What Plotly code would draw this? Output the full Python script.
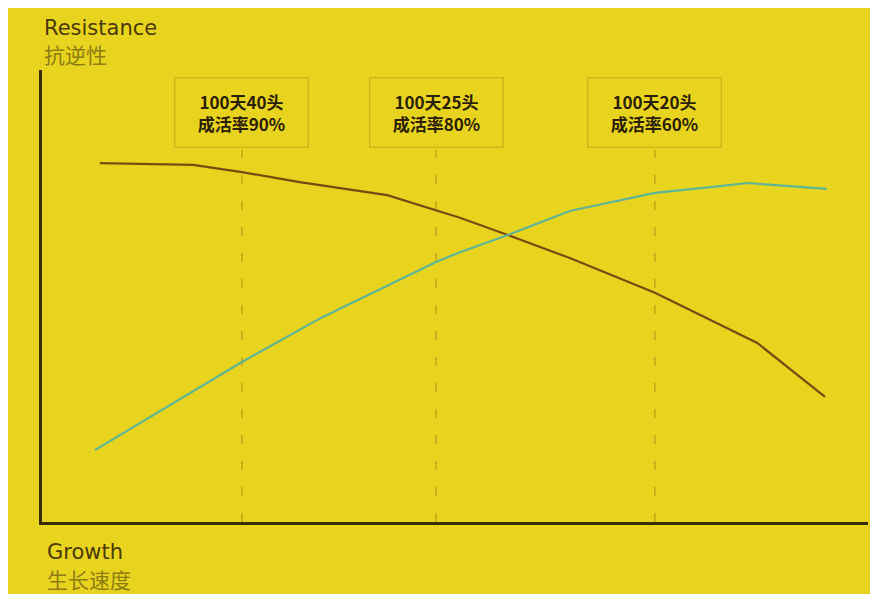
import plotly.graph_objects as go

# ---- data (x: growth index 0-100, y: resistance index 0-100) ----
resistance_x = [7.0, 18.3, 24.2, 31.2, 41.8, 47.7, 50.6, 56.4, 63.9, 74.2, 86.6, 94.8]
resistance_y = [79.4, 79.0, 77.4, 75.2, 72.3, 69.0, 67.3, 63.5, 58.4, 50.7, 39.6, 27.7]

growth_x = [6.4, 15.5, 24.2, 33.7, 43.3, 47.7, 50.6, 56.4, 63.9, 74.2, 82.1, 85.4, 95.0]
growth_y = [15.9, 25.9, 35.4, 45.1, 53.5, 57.5, 59.7, 63.5, 68.8, 72.8, 74.3, 75.0, 73.7]

marker_x = [24.2, 47.7, 74.2]
marker_top = 82.3
marker_labels = ["100天40头<br>成活率90%", "100天25头<br>成活率80%", "100天20头<br>成活率60%"]

y_title = ["Resistance", "抗逆性"]
x_title = ["Growth", "生长速度"]

# ---- style ----
YELLOW = "#E8D41E"
AXIS = "#3A2C05"
BROWN = "#7A4A12"
TEAL = "#5DB596"
DASH = "rgba(140,110,20,0.5)"
BOXLINE = "#CDB71A"

W, H = 870, 586
OFF = 8  # page body margin
L, R, T, B = 34, 10, 62, 72
pw, ph = W - L - R, H - T - B

def px_x(p):
    return (p - OFF - L) / pw

def px_y(p):
    return (H - B - (p - OFF)) / ph

fig = go.Figure()

for xv in marker_x:
    fig.add_trace(go.Scatter(x=[xv, xv], y=[0, marker_top], mode="lines",
                             line=dict(color=DASH, width=1.3, dash="9px,17px"),
                             hoverinfo="skip", showlegend=False))

fig.add_trace(go.Scatter(x=resistance_x, y=resistance_y, mode="lines",
                         line=dict(color=BROWN, width=2.2), showlegend=False))
fig.add_trace(go.Scatter(x=growth_x, y=growth_y, mode="lines",
                         line=dict(color=TEAL, width=2.2), showlegend=False))

annotations = []
for xv, lab in zip(marker_x, marker_labels):
    annotations.append(dict(x=xv, y=px_y(112), xref="x", yref="paper",
                            text="<b>" + lab + "</b>", showarrow=False,
                            font=dict(family="Noto Sans CJK SC", size=17, color="#2B2003"),
                            align="center", width=128, height=64, borderpad=2,
                            bordercolor=BOXLINE, borderwidth=1.5,
                            xanchor="center", yanchor="middle"))

annotations += [
    dict(x=px_x(42), y=px_y(28), xref="paper", yref="paper", text=y_title[0],
         showarrow=False, xanchor="left", yanchor="middle",
         font=dict(family="DejaVu Sans", size=21, color="#4A3A06")),
    dict(x=px_x(42), y=px_y(54), xref="paper", yref="paper", text=y_title[1],
         showarrow=False, xanchor="left", yanchor="middle",
         font=dict(family="Noto Sans CJK SC", size=21, color="#8E7C12")),
    dict(x=px_x(45), y=px_y(552), xref="paper", yref="paper", text=x_title[0],
         showarrow=False, xanchor="left", yanchor="middle",
         font=dict(family="DejaVu Sans", size=21, color="#4A3A06")),
    dict(x=px_x(45), y=px_y(579), xref="paper", yref="paper", text=x_title[1],
         showarrow=False, xanchor="left", yanchor="middle",
         font=dict(family="Noto Sans CJK SC", size=21, color="#8E7C12")),
]

fig.update_layout(
    width=W, height=H,
    margin=dict(l=L, r=R, t=T, b=B, pad=0),
    paper_bgcolor=YELLOW, plot_bgcolor=YELLOW,
    xaxis=dict(range=[0, 100], showgrid=False, zeroline=False, showticklabels=False,
               ticks="", showline=True, linecolor=AXIS, linewidth=3, fixedrange=True),
    yaxis=dict(range=[0, 100], showgrid=False, zeroline=False, showticklabels=False,
               ticks="", showline=True, linecolor=AXIS, linewidth=3, fixedrange=True),
    annotations=annotations, showlegend=False,
)

fig.write_html("out.html", config={"displayModeBar": False})
